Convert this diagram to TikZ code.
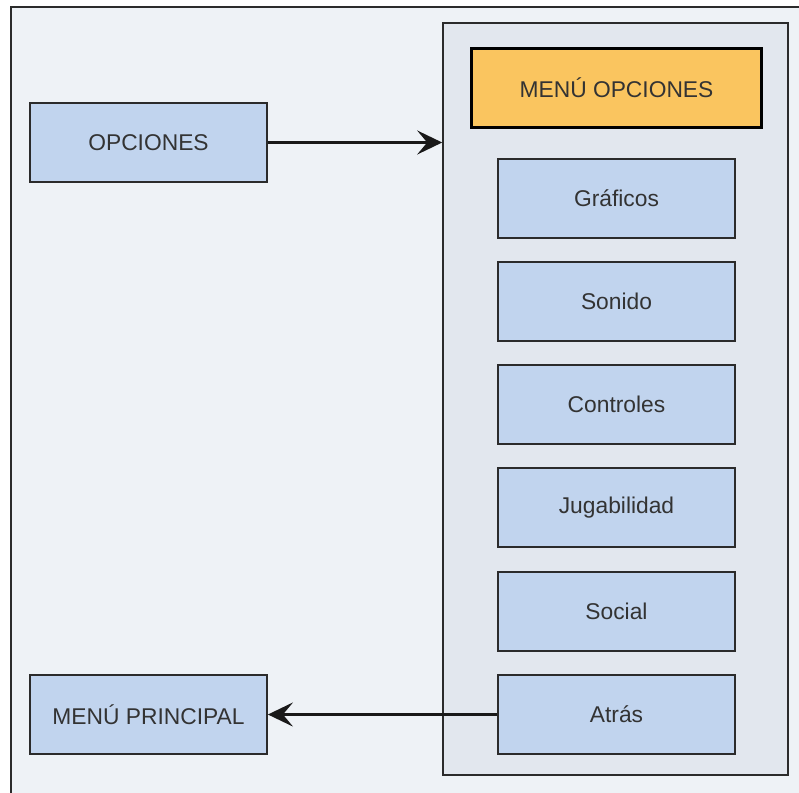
\documentclass[tikz,border=0pt]{standalone}
\usepackage{fontspec}
\setmainfont{Liberation Sans}
\usetikzlibrary{arrows.meta}
\definecolor{bgfill}{HTML}{EEF2F6}
\definecolor{contfill}{HTML}{E2E7EE}
\definecolor{boxfill}{HTML}{C1D4EE}
\definecolor{orangefill}{HTML}{FAC55F}
\definecolor{linecol}{HTML}{2B2B2B}
\definecolor{txtcol}{HTML}{333333}
\tikzset{
  itembox/.style={draw=linecol, line width=1.8pt, fill=boxfill, minimum width=237pt, minimum height=79pt,
    text=txtcol, font=\fontsize{22.8}{26}\selectfont, inner sep=0pt},
  titlebox/.style={draw=black, line width=3pt, fill=orangefill, minimum width=290pt, minimum height=79pt,
    text=txtcol, font=\fontsize{22.8}{26}\selectfont, inner sep=0pt},
  contbox/.style={draw=linecol, line width=1.6pt, fill=contfill, minimum width=345pt, minimum height=752pt, inner sep=0pt},
  conn/.style={draw=black!90, line width=2.6pt, -{Stealth[length=25pt, width=24pt, inset=10pt]}}
}
\begin{document}
\begin{tikzpicture}[x=1pt,y=-1pt]
\useasboundingbox (0,0) rectangle (799,792);
\begin{scope}
\clip (0,0) rectangle (799,792);
\fill[white] (0,0) rectangle (799,792);
\draw[draw=linecol, line width=1.6pt, fill=bgfill] (11,7) rectangle (830,830);
\end{scope}
\node[contbox] (cont) at (615.5,399) {};
\node[titlebox] (menu) at (616.5,88) {MENÚ OPCIONES};
\node[itembox] (graf) at (616.5,198.5) {Gráficos};
\node[itembox] (son) at (616.5,301.5) {Sonido};
\node[itembox] (ctrl) at (616.5,404.5) {Controles};
\node[itembox] (jug) at (616.5,507.5) {Jugabilidad};
\node[itembox] (soc) at (616.5,611.5) {Social};
\node[itembox] (atras) at (616.5,714.5) {Atrás};
\node[itembox] (opc) at (148.5,142.5) {OPCIONES};
\node[itembox] (mp) at (148.5,714.5) {MENÚ PRINCIPAL};
\draw[conn] (opc.east) -- (opc.east -| cont.west);
\draw[conn] (atras.west) -- (mp.east);
\end{tikzpicture}
\end{document}
